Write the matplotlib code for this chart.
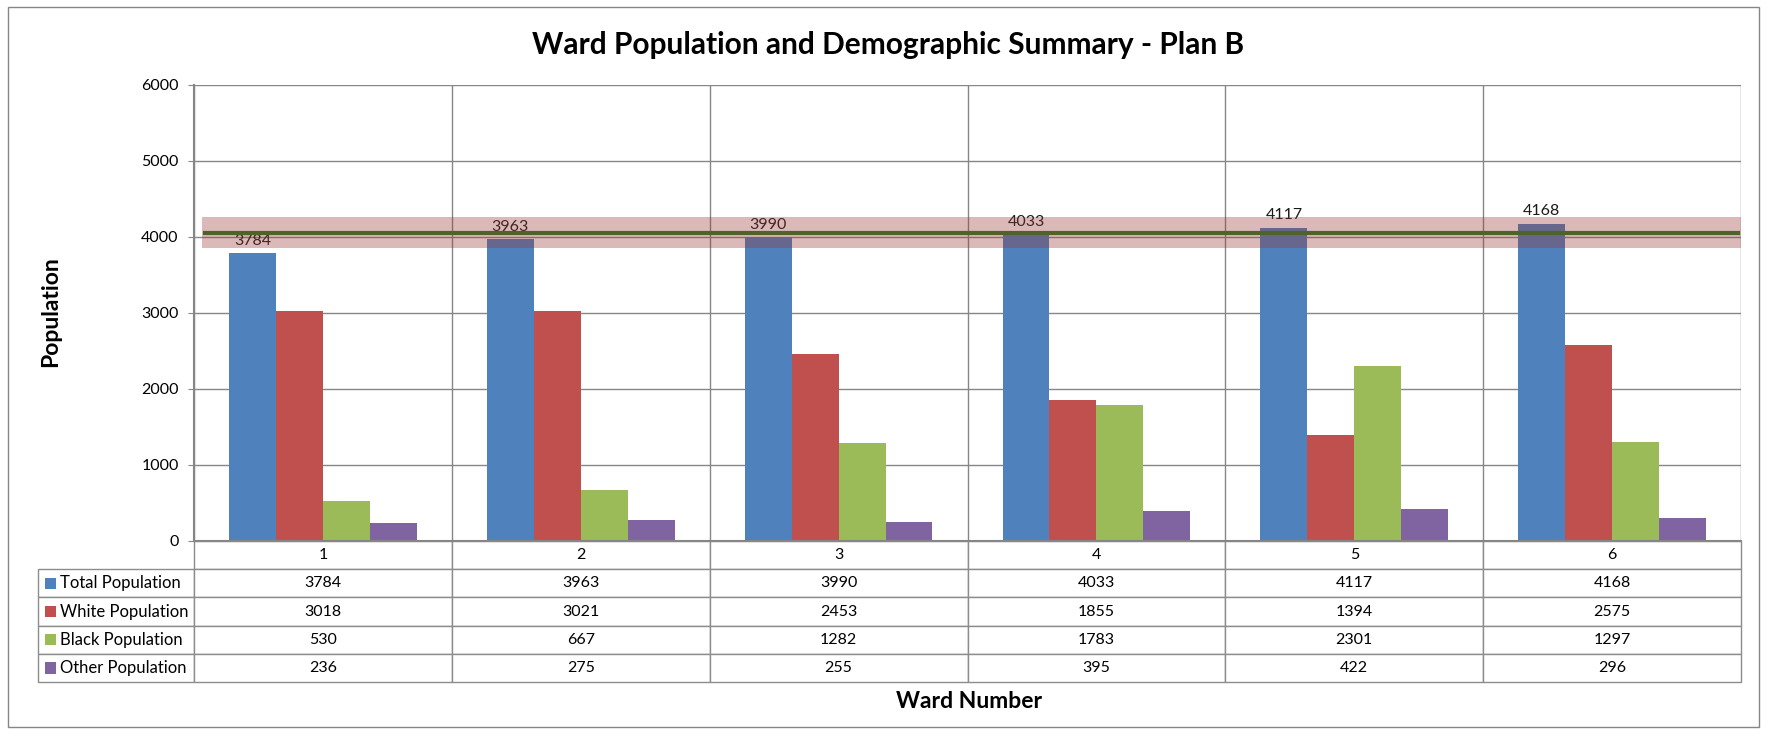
import numpy as np
import matplotlib
matplotlib.use('Agg')
import matplotlib.pyplot as plt
from matplotlib.patches import Rectangle
from matplotlib.table import Table

plt.rcParams['font.family'] = ['Lato', 'DejaVu Sans']

# data
wards = ['1', '2', '3', '4', '5', '6']
series_names = ['Total Population', 'White Population',
                'Black Population', 'Other Population']
total_pop = [3784, 3963, 3990, 4033, 4117, 4168]
white_pop = [3018, 3021, 2453, 1855, 1394, 2575]
black_pop = [530, 667, 1282, 1783, 2301, 1297]
other_pop = [236, 275, 255, 395, 422, 296]
ideal_pop = 4050
band_low, band_high = 3845, 4260

series = [total_pop, white_pop, black_pop, other_pop]
colors = ['#4f81bd', '#c0504d', '#9bbb59', '#8064a2']

W, H = 1767, 734
fig = plt.figure(figsize=(W / 100, H / 100), dpi=100)


def px_box(l, t, r, b):
    return [l / W, 1 - b / H, (r - l) / W, (b - t) / H]


ax = fig.add_axes(px_box(194, 84.5, 1741, 541))

x = np.arange(len(wards))
bw = 0.182
for i, (vals, c) in enumerate(zip(series, colors)):
    ax.bar(x + (i - 1.5) * bw, vals, bw, color=c, zorder=2, lw=0)

# value labels over the total bars
for xi, v in zip(x, total_pop):
    ax.annotate(str(v), (xi - 1.5 * bw, v), xytext=(0, 4),
                textcoords='offset points', ha='center', va='bottom',
                fontsize=11.5, color='#1a1a1a', zorder=3)

# target band and ideal line
ax.axhspan(band_low, band_high, xmin=0.005, xmax=1.0, facecolor='#953735',
           alpha=0.35, lw=0, zorder=4)
ax.axhline(ideal_pop, xmin=0.007, xmax=0.998, color='#4f6228', lw=3, zorder=5)

ax.set_xlim(-0.5, len(wards) - 0.5)
ax.set_ylim(0, 6000)
ax.set_yticks(range(0, 7000, 1000))
ax.set_xticks(np.arange(-0.5, len(wards), 1))
ax.set_xticklabels([])
ax.tick_params(axis='x', length=0)
ax.tick_params(axis='y', length=4, color='#868686', labelsize=11.5, pad=7)
ax.grid(True, color='#868686', lw=1)
ax.set_axisbelow(True)
for s in ['top', 'right']:
    ax.spines[s].set_visible(False)
for s in ['left', 'bottom']:
    ax.spines[s].set_color('#868686')
    ax.spines[s].set_linewidth(1.5)

# data table under the plot
ax_h = 541 - 84.5
row_h = 28.2 / ax_h
col_w = 1 / len(wards)
lab_w = 156 / 1547
tab = Table(ax, bbox=[0, -5 * row_h, 1, 5 * row_h])
for j, w in enumerate(wards):
    tab.add_cell(0, j, width=col_w, height=row_h, text=w, loc='center')
for i, (name, vals) in enumerate(zip(series_names, series)):
    cell = tab.add_cell(i + 1, -1, width=lab_w, height=row_h, text=name,
                        loc='left')
    cell.PAD = 0.14
    for j, v in enumerate(vals):
        tab.add_cell(i + 1, j, width=col_w, height=row_h, text=str(v),
                     loc='center')
tab.auto_set_font_size(False)
tab.set_fontsize(11.5)
for (r, c), cell in tab.get_celld().items():
    cell.set_edgecolor('#8c8c8c')
    cell.set_linewidth(1)
    if c == -1:
        cell.get_text().set_fontsize(12)
ax.add_table(tab)

sq_w = 11.5 / 1547
sq_h = 11.5 / ax_h
for i, c in enumerate(colors):
    yc = -(i + 1.5) * row_h
    ax.add_patch(Rectangle(((45 - 194) / 1547, yc - sq_h / 2), sq_w, sq_h,
                           transform=ax.transAxes, facecolor=c, lw=0,
                           clip_on=False, zorder=6))

fig.text(888 / W, 1 - 45 / H, 'Ward Population and Demographic Summary - Plan B',
         ha='center', va='center', fontsize=21.5, fontweight='bold')
fig.text(51 / W, 1 - 312 / H, 'Population', rotation=90, ha='center',
         va='center', fontsize=16.5, fontweight='bold')
fig.text(969 / W, 1 - 702 / H, 'Ward Number', ha='center', va='center',
         fontsize=16.5, fontweight='bold')

fig.patches.append(Rectangle((8 / W, 1 - 727 / H), (1759 - 8) / W,
                             (727 - 7) / H, transform=fig.transFigure,
                             fill=False, edgecolor='#868686', lw=1))

fig.savefig('out.png', dpi=100)
